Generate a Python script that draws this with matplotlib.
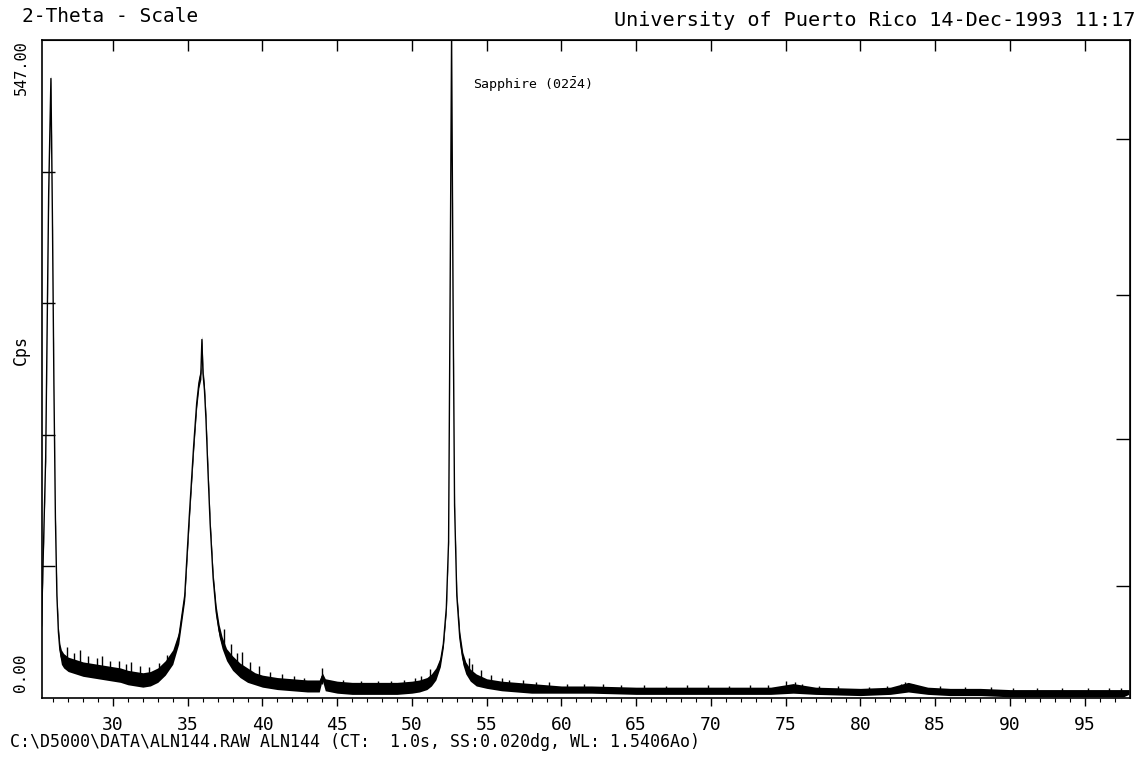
import numpy as np
import matplotlib
matplotlib.use("Agg")
import matplotlib.pyplot as plt

# 2-theta scan of ALN144
two_theta = [25.22, 25.5, 25.7, 25.85, 25.95, 26.05, 26.15, 26.25, 26.35, 26.45, 26.55, 26.7,
             27.0, 27.5, 28.0, 28.5, 29.0, 29.5, 30.0, 30.5, 31.0, 31.5, 32.0, 32.5, 33.0, 33.5, 34.0,
             34.4, 34.8, 35.1, 35.4, 35.6, 35.75, 35.88, 35.95, 36.02, 36.12, 36.22, 36.35, 36.5, 36.7,
             36.9, 37.1, 37.3, 37.6,
             38.0, 38.5, 39.0, 39.5, 40.0, 41.0, 42.0, 43.0, 43.8, 44.0, 44.2, 45.0, 46.0, 47.0, 48.0,
             49.0, 50.0, 50.5,
             51.0, 51.3, 51.6, 51.9, 52.1, 52.3, 52.45, 52.55, 52.65, 52.75, 52.85, 53.0, 53.2, 53.4,
             53.6, 53.9, 54.3,
             55.0, 56.0, 57.0, 58.0, 60.0, 62.0, 65.0, 68.0, 70.0, 72.0, 74.0, 75.5, 77.0, 80.0, 82.0,
             83.2, 84.5, 86.0, 88.0, 90.0, 92.0, 95.0, 97.6, 97.95]
cps = [60, 200, 420, 515, 400, 260, 150, 85, 55, 40, 34, 31,
       28, 26, 24, 23, 22, 21, 20, 19, 17, 16, 15, 16, 19, 25, 34,
       50, 85, 150, 210, 245, 262, 270, 298, 270, 256, 232, 190, 145, 100,
       72, 56, 46, 36,
       29, 23, 19, 16, 14, 12, 11, 10, 10, 18, 11, 9, 8, 8, 8,
       8, 9, 10,
       12, 15, 20, 30, 45, 75, 130, 330, 550, 330, 160, 85, 50, 33,
       25, 19, 15,
       12, 10, 9, 8, 7, 7, 6, 6, 6, 6, 6, 8, 6, 5, 6,
       9, 6, 5, 5, 4, 4, 4, 4, 5]
# half thickness of the noisy band
band = [3, 3, 3, 3, 3, 3, 3, 3, 4, 5, 6, 6,
        6, 6, 6, 6, 6, 6, 6, 6, 6, 6, 6, 6, 6, 6, 6,
        5, 4, 4, 4, 4, 4, 5, 3, 5, 4, 4, 4, 4, 4, 5, 5, 5, 5,
        6, 6, 6, 5, 5, 5, 5, 5, 5, 3, 5, 5, 5, 5, 5, 5, 5, 5,
        5, 5, 5, 4, 3, 3, 2, 2, 2, 3, 3, 4, 5, 5, 5, 5, 5,
        4, 4, 4, 4, 3, 3, 3, 3, 3, 3, 3, 4, 3, 3, 3, 4, 3, 3, 3, 3, 3, 3, 3, 2]

# single noise spikes
spike_x = [26.9, 27.4, 27.8, 28.3, 28.9, 29.3, 29.8, 30.4, 30.9, 31.2, 31.8, 32.4, 33.1, 33.6,
           37.4, 37.9, 38.3, 38.6, 39.2, 39.8, 40.5, 41.3, 42.1, 42.8, 44.0, 45.4, 46.6, 47.7,
           48.6, 49.5, 50.2, 50.6, 51.2, 53.8, 54.0, 54.6, 55.3, 56.0, 56.5, 57.4, 58.3, 59.2,
           60.4, 61.5, 62.8, 64.0, 65.5, 67.0, 68.4, 69.8, 71.2, 72.6, 73.8, 75.0, 75.6, 76.1,
           77.2, 78.5, 80.6, 81.8, 82.7, 83.0, 83.5, 85.3, 87.0, 88.7, 90.2, 91.8, 93.5, 95.2,
           96.6, 97.4]
spike_base = [28, 26, 25, 24, 23, 22, 21, 20, 19, 17, 17, 15, 18, 26,
              44, 30, 27, 23, 19, 17, 13, 12, 11, 10, 12, 9, 8, 8,
              8, 8, 9, 10, 13, 22, 17, 14, 12, 10, 9, 9, 8, 8,
              7, 7, 7, 6, 6, 6, 6, 6, 6, 6, 6, 7, 7, 6,
              6, 6, 5, 6, 8, 8, 8, 6, 5, 5, 4, 4, 4, 4,
              4, 4]
spike_top = [42, 37, 40, 35, 33, 35, 31, 31, 28, 30, 27, 26, 29, 36,
             57, 45, 37, 38, 30, 27, 22, 20, 18, 17, 25, 15, 14, 14,
             14, 15, 17, 18, 24, 33, 28, 23, 19, 17, 15, 15, 13, 13,
             12, 12, 12, 11, 11, 10, 11, 11, 10, 11, 11, 14, 13, 12,
             10, 10, 9, 10, 12, 13, 12, 10, 9, 9, 8, 8, 8, 8,
             8, 8]

x_ticks = [30, 35, 40, 45, 50, 55, 60, 65, 70, 75, 80, 85, 90, 95]
y_max = 547.0
left_ticks = [109.4, 218.8, 328.2, 437.6]
right_ticks = [93, 215, 335, 465]

mono = "DejaVu Sans Mono"
plt.rcParams["font.family"] = mono
plt.rcParams["mathtext.fontset"] = "custom"
plt.rcParams["mathtext.rm"] = mono

W, H = 1144, 757
fig = plt.figure(figsize=(W / 100, H / 100), dpi=100)
ax = fig.add_axes([41.5 / W, 1 - 698 / H, (1130 - 41.5) / W, (698 - 40) / H])

x = np.array(two_theta)
y = np.array(cps)
b = np.array(band)
ax.fill_between(x, y - b, y + b, color="black", lw=0)
ax.plot(x, y, color="black", lw=1.0)
ax.vlines(spike_x, spike_base, spike_top, color="black", lw=1.0)

ax.set_xlim(25.22, 98.03)
ax.set_ylim(0, y_max)

for s in ax.spines.values():
    s.set_linewidth(1.2)

ax.set_xticks(x_ticks)
ax.set_xticks(range(26, 98), minor=True)
ax.tick_params(axis="x", which="major", direction="out", length=6, width=1.0,
               labelsize=13, pad=7, top=False)
ax.tick_params(axis="x", which="minor", direction="out", length=3, width=0.8, top=False)
ax.set_yticks(left_ticks)
ax.set_yticklabels([])
ax.tick_params(axis="y", direction="in", length=9, width=1.0)

# top axis ticks (inward)
top = ax.secondary_xaxis("top")
top.set_xticks(x_ticks)
top.set_xticklabels([])
top.tick_params(direction="in", length=8, width=1.0)

# right axis ticks (inward)
right = ax.secondary_yaxis("right")
right.set_yticks(right_ticks)
right.set_yticklabels([])
right.tick_params(direction="in", length=10, width=1.0)

ax.text(54.1, 510, r"Sapphire (02$\mathrm{\bar{2}}$4)", fontsize=9.5, va="center", ha="left")

fig.text(22 / W, 1 - 17 / H, "2-Theta - Scale", fontsize=14, va="center", ha="left")
fig.text(1135 / W, 1 - 21 / H, "University of Puerto Rico 14-Dec-1993 11:17",
         fontsize=14.5, va="center", ha="right")
fig.text(10 / W, 1 - 742 / H,
         "C:\\D5000\\DATA\\ALN144.RAW ALN144 (CT:  1.0s, SS:0.020dg, WL: 1.5406Ao)",
         fontsize=12, va="center", ha="left")
fig.text(21 / W, 1 - 40 / H, "547.00", fontsize=11, rotation=90, va="top", ha="center")
fig.text(21 / W, 1 - 692 / H, "0.00", fontsize=11.5, rotation=90, va="bottom", ha="center")
fig.text(21 / W, 1 - 350 / H, "Cps", fontsize=12, rotation=90, va="center", ha="center")

fig.savefig("out.png", dpi=100)
